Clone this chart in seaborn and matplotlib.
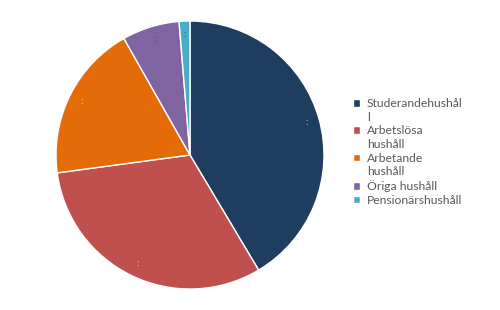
import matplotlib
matplotlib.use("Agg")
import matplotlib.pyplot as plt
import matplotlib.patches as mpatches
import seaborn as sns

sns.set_theme(style="white")
plt.rcParams['font.family'] = ['Lato', 'DejaVu Sans']

categories = ["Studerandehushåll", "Arbetslösa hushåll", "Arbetande hushåll", "Öriga hushåll", "Pensionärshushåll"]
legend_lines = [["Studerandehushål", "l"], ["Arbetslösa", "hushåll"], ["Arbetande", "hushåll"], ["Öriga hushåll"], ["Pensionärshushåll"]]
values = [41.4, 31.4, 18.9, 6.9, 1.3]
colors = ["#1f3d5e", "#c0504d", "#e36c09", "#8064a2", "#4bacc6"]
label_colors = ["#e8e8e8", "#f0f0f0", "#f5f5f5", "#1f3d5e", "#1f3d5e"]

fig = plt.figure(figsize=(5, 3.1), dpi=100)
ax = fig.add_axes([0.112, 0.0677, 0.536, 0.8645])
wedges, texts = ax.pie(values, colors=colors, startangle=90, counterclock=False,
                       labels=[":"] * len(values), labeldistance=0.9,
                       wedgeprops=dict(edgecolor="white", linewidth=1),
                       textprops=dict(fontsize=7, ha="center", va="center"))
for t, c in zip(texts, label_colors):
    t.set_color(c)
ax.set_xlim(-1, 1)
ax.set_ylim(-1, 1)
ax.set_aspect("equal")
ax.axis("off")

handles, labels = [], []
for w, lines in zip(wedges, legend_lines):
    for i, line in enumerate(lines):
        if i == 0:
            handles.append(w)
        else:
            handles.append(mpatches.Patch(facecolor="none", edgecolor="none"))
        labels.append(line)

leg = fig.legend(handles, labels, loc="center left", bbox_to_anchor=(0.705, 0.51),
                 frameon=False, fontsize=8.7, handlelength=0.6, handleheight=0.6,
                 handletextpad=0.6, labelspacing=0.22, borderpad=0, borderaxespad=0)
for t in leg.get_texts():
    t.set_color("#595959")

fig.savefig("out.png", dpi=100)
